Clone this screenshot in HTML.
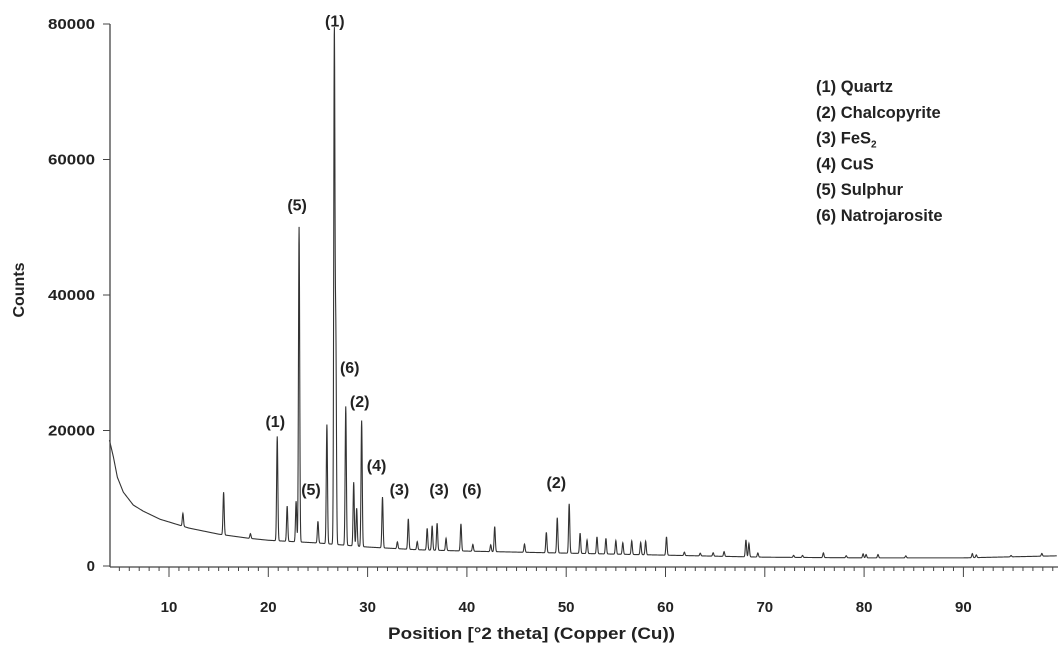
<!DOCTYPE html>
<html><head><meta charset="utf-8"><style>
body{margin:0;background:#fff;}
svg{display:block;font-family:"Liberation Sans",sans-serif;}
</style></head><body>
<svg id="chart" width="1064" height="654"></svg>
<script>
const bgTheta=[4,4.4,4.8,5.4,6.4,7.4,9.1,10,12,15,18,20,25,30,35,40,50,60,70,80,90,99.4];
const bgCounts=[18600,16100,13100,10900,9000,8100,6900,6500,5600,4700,4100,3800,3400,2800,2400,2200,1900,1600,1300,1200,1200,1500];
const peakTheta=[11.4,15.5,18.2,20.9,21.9,22.8,23.1,25.0,25.9,26.65,26.8,27.8,28.6,28.9,29.4,31.5,33.0,34.1,35.0,36.0,36.5,37.0,37.9,39.4,40.6,42.4,42.8,45.8,48.0,49.1,50.3,51.4,52.1,53.1,54.0,55.0,55.7,56.6,57.5,58.0,60.1,61.9,63.5,64.8,65.9,68.1,68.4,69.3,72.9,73.8,75.9,78.2,79.9,80.2,81.4,84.2,90.9,91.3,94.8,97.9];
const peakCounts=[1900,6300,700,15400,5200,6000,46500,3200,17600,75400,30000,20500,9400,5600,18600,7500,1000,4500,1200,3200,3600,4000,1800,4000,1000,1000,3700,1200,3000,5200,7300,3000,2000,2500,2300,2000,1700,2000,1800,2000,2700,500,400,500,700,2500,2000,600,300,300,700,300,600,500,500,300,600,400,200,400];
const yTicks=[0,20000,40000,60000,80000];
const xTicks=[10,20,30,40,50,60,70,80,90];
const phaseLabels=["(1)","(5)","(6)","(2)","(1)","(5)","(4)","(3)","(3)","(6)","(2)"];
const labelTheta=[26.7,22.9,28.2,29.2,20.7,24.3,30.9,33.2,37.2,40.5,49.0];
const labelCounts=[79600,52500,28500,23500,20500,10500,14000,10500,10500,10500,11500];
const legendItems=["Quartz","Chalcopyrite","FeS","CuS","Sulphur","Natrojarosite"];

const NS="http://www.w3.org/2000/svg";
const svg=document.getElementById('chart');
const X=v=>169+(v-10)*9.93;
const Y=c=>566-c*(542/80000);
function mk(t,a,p){const e=document.createElementNS(NS,t);for(const k in a)e.setAttribute(k,a[k]);(p||svg).appendChild(e);return e;}
function bg(t){for(let i=0;i<bgTheta.length-1;i++){if(t<=bgTheta[i+1]){const f=(t-bgTheta[i])/(bgTheta[i+1]-bgTheta[i]);return bgCounts[i]+f*(bgCounts[i+1]-bgCounts[i]);}}return bgCounts[bgCounts.length-1];}
let d="";
for(let t=4;t<=99.4;t+=0.02){let c=bg(t);for(let j=0;j<peakTheta.length;j++){const s=0.06;const dx=t-peakTheta[j];if(Math.abs(dx)<0.6)c+=peakCounts[j]*Math.exp(-dx*dx/(2*s*s));}
d+=(d?"L":"M")+X(t).toFixed(2)+","+Y(c).toFixed(2);}
const line=mk('path',{d:d,fill:'none',stroke:'#333',"stroke-width":1.1});


const ya=mk('line',{x1:110,y1:Y(80000),x2:110,y2:567,stroke:'#444','stroke-width':1.3});

const xa=mk('line',{x1:110,y1:567,x2:1058,y2:567,stroke:'#444','stroke-width':1.3});

yTicks.forEach(v=>{mk('line',{x1:103,y1:Y(v),x2:110,y2:Y(v),stroke:'#444'});
const t=mk('text',{x:95,y:Y(v)+5,'text-anchor':'end','font-size':15,'font-weight':'bold',fill:'#222',textLength:47,lengthAdjust:'spacingAndGlyphs'});t.textContent=v;
if(v===0){t.removeAttribute('textLength');}
});
for(let v=5;v<=99;v++){const maj=v%10==0;mk('line',{x1:X(v),y1:567,x2:X(v),y2:567+(maj?10:4),stroke:'#444','stroke-width':1});}
xTicks.forEach(v=>{const t=mk('text',{x:X(v),y:612,'text-anchor':'middle','font-size':15,'font-weight':'bold',fill:'#222'});t.textContent=v;
});
const xt=mk('text',{x:388,y:639,'font-size':17,'font-weight':'bold',fill:'#222',textLength:287,lengthAdjust:'spacingAndGlyphs'});xt.textContent="Position [°2 theta] (Copper (Cu))";

const yt=mk('text',{x:0,y:0,'text-anchor':'middle','font-size':16,'font-weight':'bold',fill:'#222',transform:'translate(24,290) rotate(-90)'});yt.textContent="Counts";

phaseLabels.forEach((s,i)=>{const t=mk('text',{x:X(labelTheta[i]),y:Y(labelCounts[i]),'text-anchor':'middle','font-size':16,'font-weight':'bold',fill:'#222'});t.textContent=s;
});
const lg=mk('g',{});
legendItems.forEach((s,i)=>{const t=mk('text',{x:816,y:92+i*25.8,'font-size':16.5,'font-weight':'bold',fill:'#222'},lg);t.textContent="(" + (i+1) + ")  "+s;

if(s==="FeS"){const sub=mk('tspan',{'font-size':10,dy:4},t);sub.textContent="2";}});
</script>
</body></html>
